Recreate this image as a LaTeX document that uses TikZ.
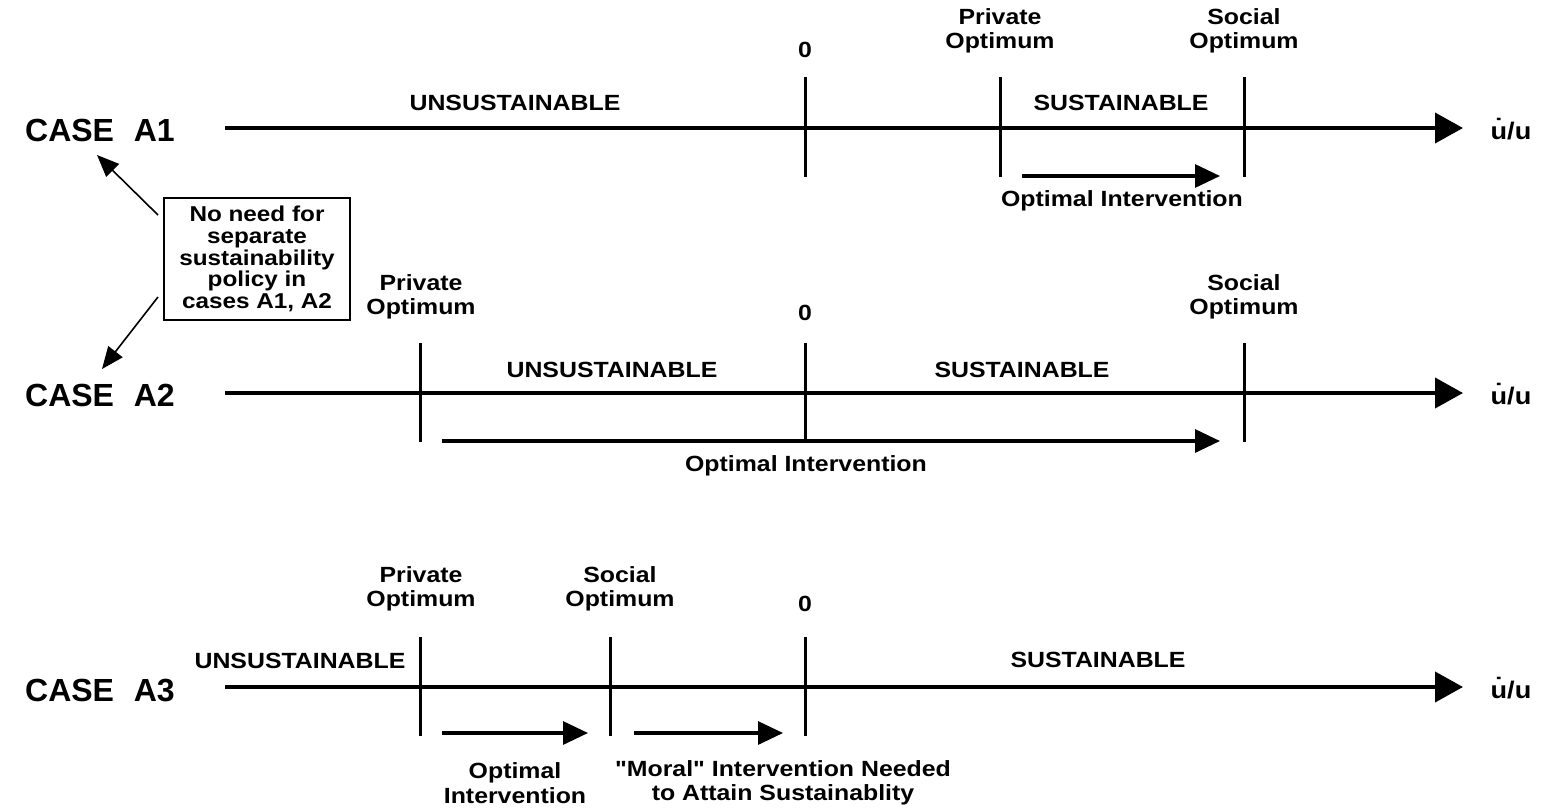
\documentclass[tikz,border=0pt]{standalone}
\usepackage{fontspec}
\setmainfont{Liberation Sans}
\newfontfamily\lab{Liberation Sans}[FakeStretch=1.13]
\usetikzlibrary{arrows.meta}
\begin{document}
\begin{tikzpicture}[x=1pt,y=-1pt,
  axisline/.style={line width=4pt,-{Triangle[length=28pt,width=30pt]}},
  tickline/.style={line width=3pt},
  interv/.style={line width=3.2pt,-{Triangle[length=25pt,width=23pt]}},
  lbl/.style={font=\lab\bfseries\fontsize{22}{24.5}\selectfont, align=center, inner sep=0pt},
  ulbl/.style={font=\lab\bfseries\fontsize{24}{26}\selectfont, inner sep=0pt},
  caselbl/.style={font=\bfseries\fontsize{32}{34}\selectfont, inner sep=0pt},
  notebox/.style={draw, line width=1.5pt, font=\lab\bfseries\fontsize{21.5}{21.7}\selectfont,
    align=center, inner sep=0pt, minimum width=186pt, minimum height=122pt},
  notearrow/.style={line width=1.6pt,-{Triangle[length=22pt,width=18pt]}}]
\useasboundingbox (0,0) rectangle (1543,809);

% ---------- CASE A1 ----------
\node[caselbl] (cA1) at (100,130) {CASE\hspace{0.62em}A1};
\coordinate (a1s) at (225,128);
\coordinate (a1e) at (1463,128);
\draw[axisline] (a1s) -- (a1e);
\node[ulbl] (uA1) at (1511,129) {\.{u}/u};
\coordinate (t1a) at (805,77);  \coordinate (t1b) at (805,177);
\coordinate (t1c) at (1000,77); \coordinate (t1d) at (1000,177);
\coordinate (t1e) at (1244,77); \coordinate (t1f) at (1244,177);
\draw[tickline] (t1a) -- (t1b);
\draw[tickline] (t1c) -- (t1d);
\draw[tickline] (t1e) -- (t1f);
\node[lbl] (z1) at (805,50) {0};
\node[lbl] (po1) at (1000,31) {Private\\Optimum};
\node[lbl] (so1) at (1244,31) {Social\\Optimum};
\node[lbl] (un1) at (515,103) {UNSUSTAINABLE};
\node[lbl] (su1) at (1121,103) {SUSTAINABLE};
\coordinate (i1s) at (1022,176);
\coordinate (i1e) at (1220,176);
\draw[interv] (i1s) -- (i1e);
\node[lbl] (oi1) at (1122,201) {Optimal Intervention};

% ---------- note box ----------
\node[notebox] (note) at (257,259) {No need for\\separate\\sustainability\\policy in\\cases A1, A2};
\coordinate (n1s) at (158,215);
\coordinate (n1e) at (97,155);
\coordinate (n2s) at (158,297);
\coordinate (n2e) at (102,369);
\draw[notearrow] (n1s) -- (n1e);
\draw[notearrow] (n2s) -- (n2e);

% ---------- CASE A2 ----------
\node[caselbl] (cA2) at (100,395) {CASE\hspace{0.62em}A2};
\coordinate (a2s) at (225,393);
\coordinate (a2e) at (1463,393);
\draw[axisline] (a2s) -- (a2e);
\node[ulbl] (uA2) at (1511,394) {\.{u}/u};
\coordinate (t2a) at (420,343);  \coordinate (t2b) at (420,442);
\coordinate (t2c) at (805,343);  \coordinate (t2d) at (805,442);
\coordinate (t2e) at (1244,343); \coordinate (t2f) at (1244,442);
\draw[tickline] (t2a) -- (t2b);
\draw[tickline] (t2c) -- (t2d);
\draw[tickline] (t2e) -- (t2f);
\node[lbl] (po2) at (421,297) {Private\\Optimum};
\node[lbl] (z2) at (805,313) {0};
\node[lbl] (so2) at (1244,297) {Social\\Optimum};
\node[lbl] (un2) at (612,370) {UNSUSTAINABLE};
\node[lbl] (su2) at (1022,370) {SUSTAINABLE};
\coordinate (i2s) at (442,441);
\coordinate (i2e) at (1220,441);
\draw[interv] (i2s) -- (i2e);
\node[lbl] (oi2) at (806,466) {Optimal Intervention};

% ---------- CASE A3 ----------
\node[caselbl] (cA3) at (100,690) {CASE\hspace{0.62em}A3};
\coordinate (a3s) at (225,687);
\coordinate (a3e) at (1463,687);
\draw[axisline] (a3s) -- (a3e);
\node[ulbl] (uA3) at (1511,688) {\.{u}/u};
\coordinate (t3a) at (420,637); \coordinate (t3b) at (420,736);
\coordinate (t3c) at (610,637); \coordinate (t3d) at (610,736);
\coordinate (t3e) at (805,637); \coordinate (t3f) at (805,736);
\draw[tickline] (t3a) -- (t3b);
\draw[tickline] (t3c) -- (t3d);
\draw[tickline] (t3e) -- (t3f);
\node[lbl] (po3) at (421,589) {Private\\Optimum};
\node[lbl] (so3) at (620,589) {Social\\Optimum};
\node[lbl] (z3) at (805,604) {0};
\node[lbl] (un3) at (300,661) {UNSUSTAINABLE};
\node[lbl] (su3) at (1098,660) {SUSTAINABLE};
\coordinate (i3s) at (442,733);
\coordinate (i3e) at (588,733);
\coordinate (i4s) at (634,733);
\coordinate (i4e) at (783,733);
\draw[interv] (i3s) -- (i3e);
\draw[interv] (i4s) -- (i4e);
\node[lbl] (oi3) at (515,783) {Optimal\\Intervention};
\node[lbl] (mi3) at (783,783) {"Moral" Intervention Needed\\to Attain Sustainablity};
\end{tikzpicture}
\end{document}
